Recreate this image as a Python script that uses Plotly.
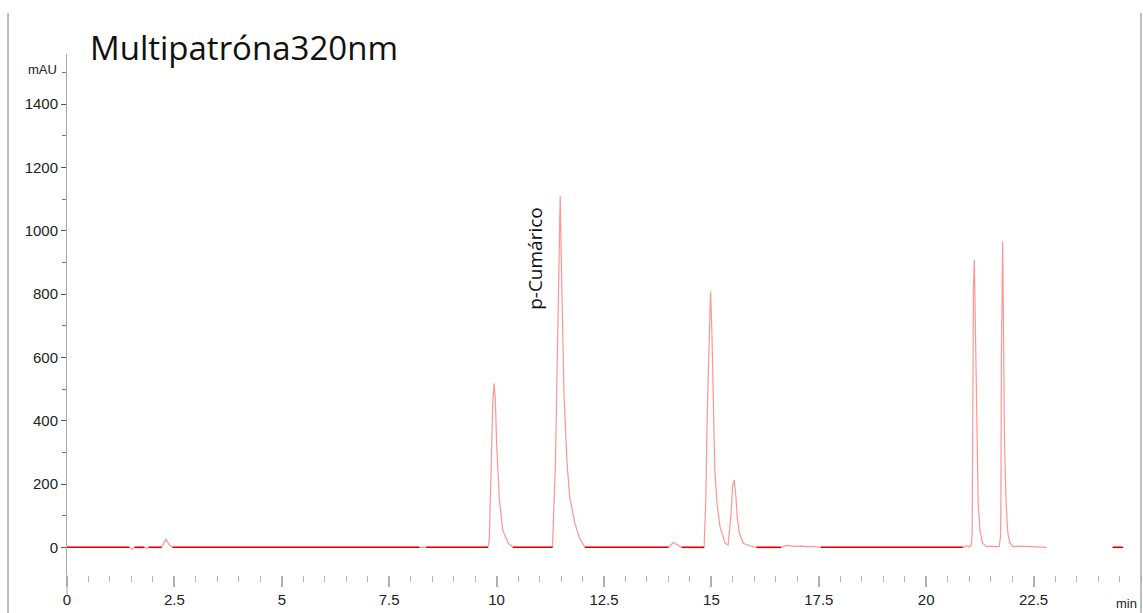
import plotly.graph_objects as go

# ---- data (time in min, signal in mAU) ----
time_min = [0, 1.45, 1.51, 1.57, 1.80, 1.85, 1.90, 2.20, 2.30, 2.38, 2.46,
            8.20, 8.28, 8.36,
            9.80, 9.83, 9.885, 9.91, 9.94, 9.97, 10.00, 10.06, 10.14, 10.27, 10.38,
            11.30, 11.37, 11.42, 11.45, 11.48, 11.515, 11.57, 11.64, 11.70, 11.82, 11.93, 12.06,
            14.00, 14.11, 14.31,
            14.83, 14.87, 14.90, 14.94, 14.98, 15.01, 15.04, 15.08, 15.13, 15.20, 15.32, 15.39,
            15.46, 15.49, 15.53, 15.57, 15.60, 15.65, 15.74, 15.90, 16.05,
            16.62, 16.75, 16.90, 17.10, 17.20, 17.30, 17.55,
            20.85, 20.94, 21.00, 21.05, 21.07, 21.08, 21.09, 21.10, 21.12, 21.14, 21.16, 21.18,
            21.21, 21.25, 21.31, 21.41, 21.50, 21.60,
            21.70, 21.73, 21.74, 21.75, 21.76, 21.78, 21.80, 21.82, 21.86, 21.90, 21.95, 22.03,
            22.20, 22.40, 22.60, 22.80,
            23.50,
            24.34, 24.58]
signal_mau = [0, 0, -6, 0, 0, -3, 0, 0, 26, 8, 0,
              0, 2, 0,
              0, 23, 332, 450, 518, 470, 332, 160, 55, 13, 0,
              0, 267, 634, 918, 1110, 845, 476, 266, 160, 77, 29, 0,
              0, 15, 0,
              0, 149, 402, 613, 808, 687, 455, 244, 139, 65, 13, 7,
              108, 191, 213, 160, 97, 45, 13, 4, 0,
              0, 6, 3, 4, 2, 3, 0,
              0, 5, 1, 8, 45, 297, 613, 823, 908, 718, 507, 297,
              140, 55, 13, 2, 4, 2,
              3, 34, 171, 592, 823, 966, 687, 349, 140, 45, 13, 2,
              4, 3, 2, 0,
              None,
              0, 0]

x_tick_vals = [0, 2.5, 5, 7.5, 10, 12.5, 15, 17.5, 20, 22.5]
x_tick_text = ["0", "2.5", "5", "7.5", "10", "12.5", "15", "17.5", "20", "22.5"]
y_tick_vals = [0, 200, 400, 600, 800, 1000, 1200, 1400]
y_tick_text = ["0", "200", "400", "600", "800", "1000", "1200", "1400"]

title_text = "Multipatróna320nm"
peak_label = "p-Cumárico"
peak_label_time = 10.89
peak_label_mau = 914

baseline_mau = [v if v == 0 else None for v in signal_mau]

fig = go.Figure()
fig.add_trace(go.Scatter(x=time_min, y=signal_mau, mode="lines",
                         line=dict(color="#ff9595", width=1.2),
                         hoverinfo="skip", showlegend=False))
fig.add_trace(go.Scatter(x=time_min, y=baseline_mau, mode="lines",
                         line=dict(color="#e00000", width=1.6),
                         hoverinfo="skip", showlegend=False))

tick_font = dict(family="Liberation Sans Narrow, Liberation Sans, Arial", size=15, color="#222222")

fig.update_layout(
    width=1143, height=613,
    margin=dict(l=67, r=2, t=54, b=38),
    paper_bgcolor="white", plot_bgcolor="white",
    xaxis=dict(range=[0, 25], showgrid=False, zeroline=False, showline=False,
               tickmode="array", tickvals=x_tick_vals, ticktext=x_tick_text,
               ticks="outside", ticklen=11, tickcolor="#b0b0b0", tickwidth=1.5,
               minor=dict(dtick=0.5, tick0=0, ticks="outside", ticklen=6,
                          tickcolor="#b0b0b0", tickwidth=1),
               tickfont=tick_font),
    yaxis=dict(range=[-87.5, 1558.6], showgrid=False, zeroline=False,
               showline=True, linecolor="#a8a8a8", linewidth=1,
               tickmode="array", tickvals=y_tick_vals, ticktext=y_tick_text,
               ticks="outside", ticklen=5, tickcolor="#555555", tickwidth=1,
               minor=dict(dtick=100, tick0=0, ticks="outside", ticklen=4,
                          tickcolor="#777777"),
               tickfont=tick_font),
)

border = dict(color="#a8a8a8", width=1.5)
# outer frame lines (left / right) and extension of y axis line
fig.add_shape(type="line", xref="paper", yref="paper", x0=-0.0549, x1=-0.0549,
              y0=1.0787, y1=-0.08, line=border)
fig.add_shape(type="line", xref="paper", yref="paper", x0=1.0, x1=1.0,
              y0=1.0787, y1=-0.08, line=border)
fig.add_shape(type="line", xref="paper", yref="paper", x0=0, x1=0,
              y0=0, y1=-0.038, line=dict(color="#a8a8a8", width=1))

fig.add_annotation(text=title_text, xref="paper", yref="paper",
                   x=(88 - 67) / 1074, y=(575 - 48) / 521, xanchor="left", yanchor="middle",
                   showarrow=False, font=dict(family="Open Sans", size=33, color="#111111"))
fig.add_annotation(text="mAU", xref="paper", yref="paper",
                   x=(59 - 67) / 1074, y=(575 - 69) / 521, xanchor="right", yanchor="middle",
                   showarrow=False, font=dict(family="Liberation Sans Narrow, Liberation Sans, Arial",
                                              size=13, color="#222222"))
fig.add_annotation(text="min", xref="paper", yref="paper",
                   x=(1139 - 67) / 1074, y=(575 - 603) / 521, xanchor="right", yanchor="middle",
                   showarrow=False, font=dict(family="Liberation Sans Narrow, Liberation Sans, Arial",
                                              size=13, color="#222222"))
fig.add_annotation(text=peak_label, x=peak_label_time, y=peak_label_mau,
                   xref="x", yref="y", textangle=-90, showarrow=False,
                   xanchor="center", yanchor="middle",
                   font=dict(family="Open Sans", size=19, color="#111111"))

fig.write_html("out.html")
